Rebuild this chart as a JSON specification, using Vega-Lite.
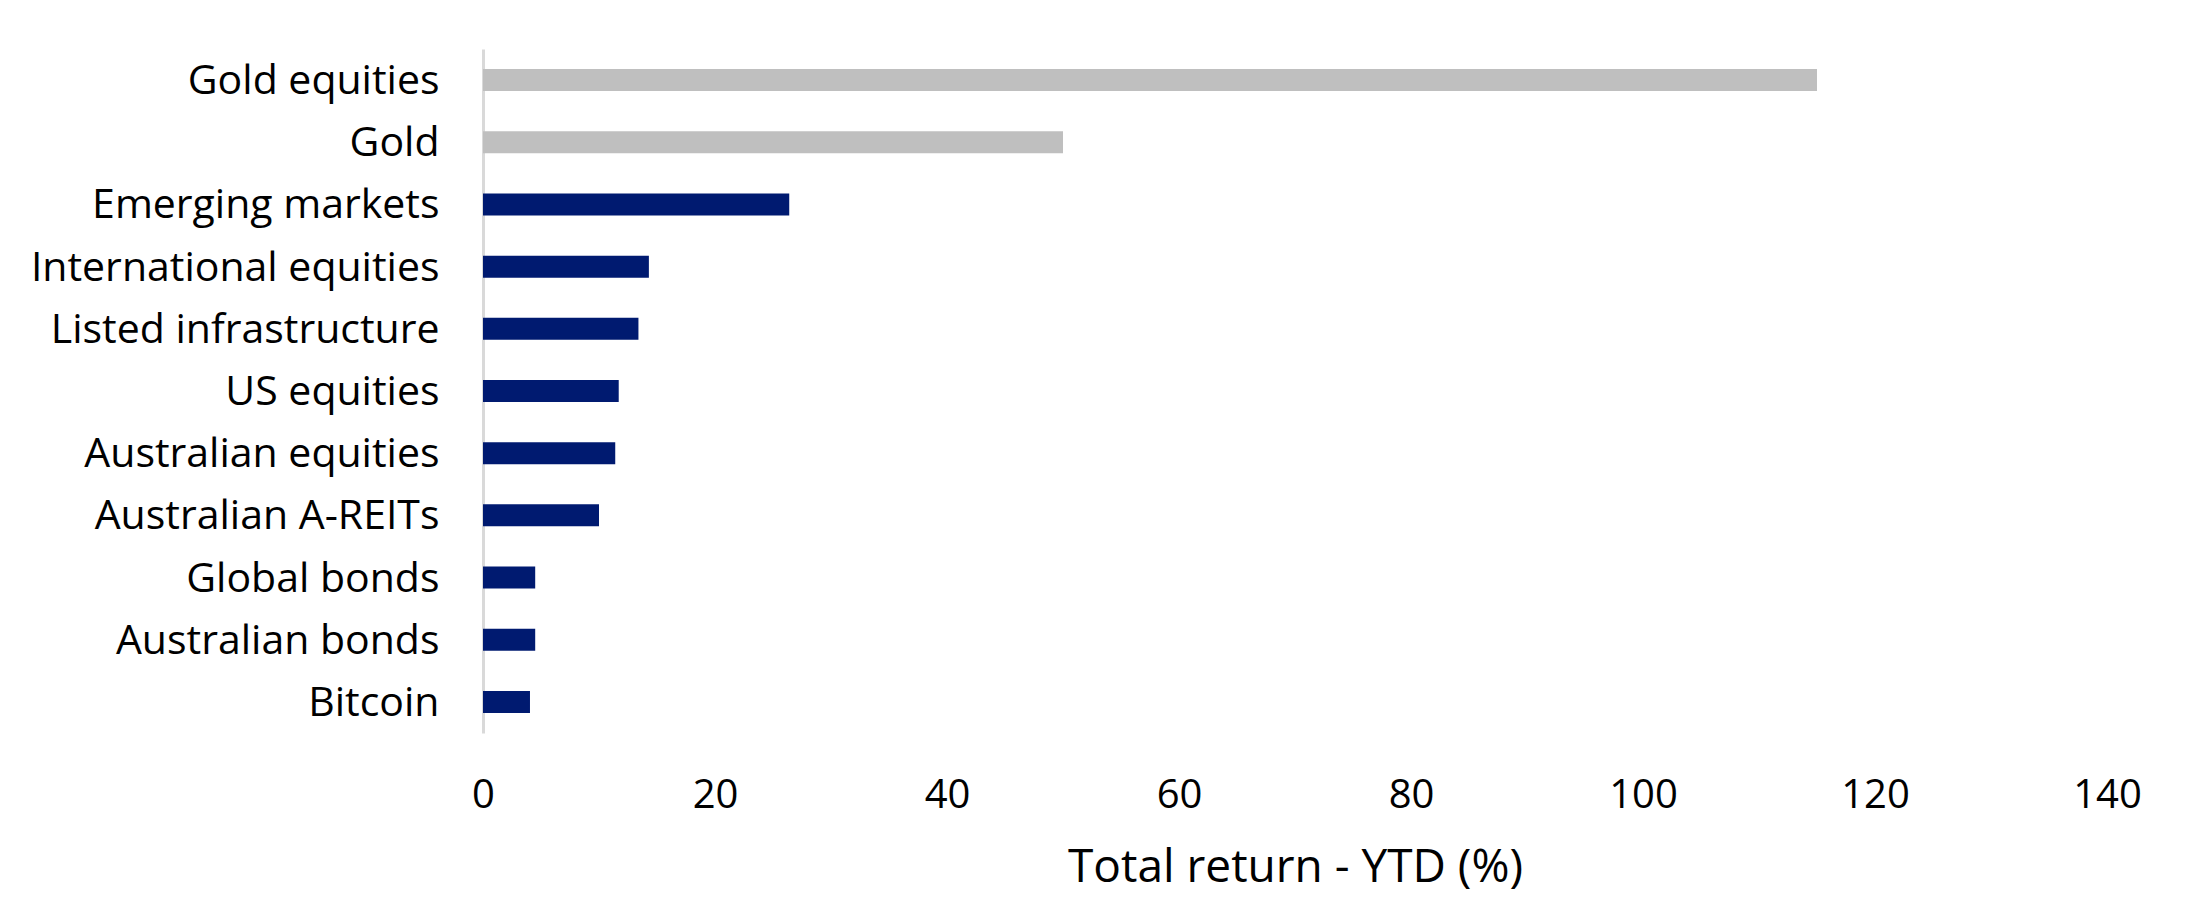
{
  "$schema": "https://vega.github.io/schema/vega-lite/v6.json",
  "autosize": "none",
  "width": 1624,
  "height": 684,
  "padding": {"left": 483, "top": 49, "right": 87, "bottom": 169},
  "background": "white",
  "config": {
    "view": {"stroke": null},
    "font": "Open Sans"
  },
  "data": {
    "values": [
      {"asset": "Gold equities", "ret": 115.0, "group": "gold"},
      {"asset": "Gold", "ret": 50.0, "group": "gold"},
      {"asset": "Emerging markets", "ret": 26.4, "group": "other"},
      {"asset": "International equities", "ret": 14.3, "group": "other"},
      {"asset": "Listed infrastructure", "ret": 13.4, "group": "other"},
      {"asset": "US equities", "ret": 11.7, "group": "other"},
      {"asset": "Australian equities", "ret": 11.4, "group": "other"},
      {"asset": "Australian A-REITs", "ret": 10.0, "group": "other"},
      {"asset": "Global bonds", "ret": 4.5, "group": "other"},
      {"asset": "Australian bonds", "ret": 4.5, "group": "other"},
      {"asset": "Bitcoin", "ret": 4.05, "group": "other"}
    ]
  },
  "mark": {"type": "bar"},
  "encoding": {
    "y": {
      "field": "asset",
      "type": "nominal",
      "sort": null,
      "scale": {"paddingInner": 0.646, "paddingOuter": 0.323},
      "axis": {
        "title": null,
        "domain": true,
        "domainColor": "#d9d9d9",
        "domainWidth": 3,
        "ticks": false,
        "grid": false,
        "labelFont": "Open Sans",
        "labelFontSize": 41,
        "labelColor": "#000000",
        "labelPadding": 44,
        "labelOffset": 2,
        "labelLimit": 600
      }
    },
    "x": {
      "field": "ret",
      "type": "quantitative",
      "scale": {"domain": [0, 140], "nice": false},
      "axis": {
        "title": "Total return - YTD (%)",
        "values": [0, 20, 40, 60, 80, 100, 120, 140],
        "domain": false,
        "ticks": false,
        "grid": false,
        "labelFont": "Open Sans",
        "labelFontSize": 40,
        "labelColor": "#000000",
        "labelPadding": 42,
        "labelFlush": false,
        "titleFont": "Open Sans",
        "titleFontSize": 46,
        "titleFontWeight": "normal",
        "titleColor": "#000000",
        "titlePadding": 30
      }
    },
    "color": {
      "field": "group",
      "type": "nominal",
      "scale": {"domain": ["gold", "other"], "range": ["#bfbfbf", "#001a70"]},
      "legend": null
    }
  }
}
